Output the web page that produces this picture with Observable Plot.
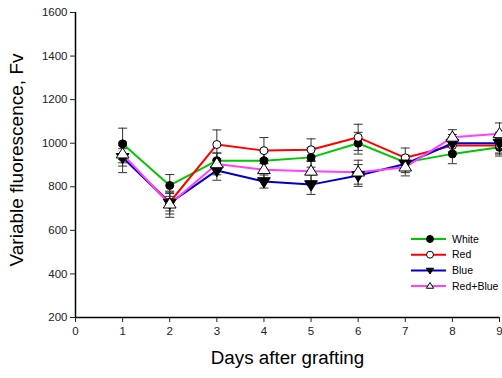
<!DOCTYPE html>
<html><head><meta charset="utf-8">
<script src="https://cdn.jsdelivr.net/npm/d3@7"></script>
<script src="https://cdn.jsdelivr.net/npm/@observablehq/plot@0.6"></script>
<style>body{margin:0;background:#fff;font-family:Arial,"Liberation Sans",sans-serif}</style>
</head><body><div id="chart"></div>
<script>
const days = [1,2,3,4,5,6,7,8,9];
const seriesNames = ["White","Red","Blue","Red+Blue"];
const white = [997,806,920,920,935,1000,912,951,981];
const red = [935,729,994,966,970,1027,933,989,990];
const blue = [935,725,875,824,810,852,905,1000,1000];
const redBlue = [950,720,905,878,871,867,890,1027,1043];
const whiteErr = [72,50,35,40,45,50,30,45,40];
const redErr = [40,40,67,60,50,60,45,40,35];
const blueErr = [70,50,45,30,45,50,40,40,50];
const redBlueErr = [40,60,50,50,45,55,40,35,50];
const yTicks = [200,400,600,800,1000,1200,1400,1600];
const xTicks = [0,1,2,3,4,5,6,7,8,9];

const colors = {"White":"#00c800","Red":"#ff0000","Blue":"#0000c8","Red+Blue":"#ff40ff"};
const downTri = {draw(ctx,size){const s=Math.sqrt(size)*0.9; ctx.moveTo(-s,-s*0.6); ctx.lineTo(s,-s*0.6); ctx.lineTo(0,s*1.0); ctx.closePath();}};
const upTri = {draw(ctx,size){const s=Math.sqrt(size)*0.9; ctx.moveTo(-s,s*0.6); ctx.lineTo(s,s*0.6); ctx.lineTo(0,-s*1.0); ctx.closePath();}};
const cap = {draw(ctx,size){ctx.moveTo(-4.5,0); ctx.lineTo(4.5,0);}};
const symbols = {"White":"circle","Red":"circle","Blue":downTri,"Red+Blue":upTri};
const fills = {"White":"black","Red":"white","Blue":"black","Red+Blue":"white"};

const vals = [white,red,blue,redBlue], errs=[whiteErr,redErr,blueErr,redBlueErr];
const data = [];
seriesNames.forEach((s,i)=>days.forEach((d,j)=>data.push({series:s,day:d,v:vals[i][j],e:errs[i][j]})));

const marks = [
  Plot.ruleX(data,{x:"day",y1:d=>d.v-d.e,y2:d=>d.v+d.e,stroke:"#333",strokeWidth:1}),
  Plot.dot(data,{x:"day",y:d=>d.v+d.e,symbol:()=>cap,r:3,stroke:"#333",strokeWidth:1,fill:"none"}),
  Plot.dot(data,{x:"day",y:d=>d.v-d.e,symbol:()=>cap,r:3,stroke:"#333",strokeWidth:1,fill:"none"}),
];
seriesNames.forEach(s=>{
  const sd=data.filter(d=>d.series===s);
  marks.push(Plot.line(sd,{x:"day",y:"v",stroke:colors[s],strokeWidth:2}));
});
seriesNames.forEach(s=>{
  const sd=data.filter(d=>d.series===s);
  marks.push(Plot.dot(sd,{x:"day",y:"v",symbol:()=>symbols[s],r:4,fill:fills[s],stroke:"black",strokeWidth:1}));
});
marks.push(
  Plot.ruleX([0],{stroke:"black",strokeWidth:1.5}),
  Plot.ruleY([200],{stroke:"black",strokeWidth:1.5}),
  Plot.axisX({ticks:xTicks,tickSize:5,tickFormat:d=>String(d),label:null,fontSize:11.5,tickPadding:4,color:"#222"}),
  Plot.axisY({ticks:yTicks,tickSize:5,tickFormat:d=>String(d),label:null,fontSize:11.5,tickPadding:3,color:"#222"}),
  Plot.text(["Days after grafting"],{frameAnchor:"bottom",dy:46,fontSize:18.8,fill:"black"}),
  Plot.text(["Variable fluorescence, Fv"],{frameAnchor:"left",textAnchor:"middle",dx:-59,dy:-5,rotate:-90,fontSize:19,fill:"black"})
);

const plot = Plot.plot({
  width:502,height:378,
  marginLeft:75,marginRight:3,marginTop:12,marginBottom:61,
  style:{fontFamily:"Arial, 'Liberation Sans', sans-serif",fontSize:"11px",color:"black",background:"white",overflow:"visible"},
  x:{domain:[0,9]},
  y:{domain:[200,1600]},
  marks
});
const svg = d3.select(plot);
const lg = svg.append("g").attr("transform","translate(411,239)").attr("text-anchor","start");
seriesNames.forEach((s,i)=>{
  const g=lg.append("g").attr("transform",`translate(0,${i*15.7})`);
  g.append("line").attr("x1",0).attr("x2",35).attr("y1",0).attr("y2",0).attr("stroke",colors[s]).attr("stroke-width",2);
  const sym = typeof symbols[s]==="string"? d3.symbolCircle : symbols[s];
  g.append("path").attr("d",d3.symbol(sym,s==="White"||s==="Red"?38:16)()).attr("transform","translate(19,0)").attr("fill",fills[s]).attr("stroke","black").attr("stroke-width",1);
  g.append("text").attr("x",41).attr("y",0).attr("dy","0.35em").attr("font-size",10.5).attr("fill","black").text(s);
});
document.getElementById("chart").appendChild(plot);
</script></body></html>
